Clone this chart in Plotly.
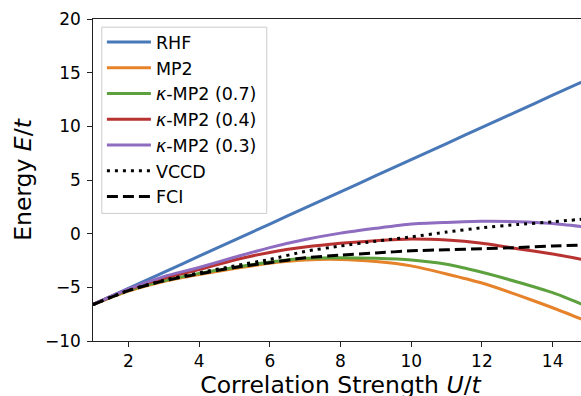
import plotly.graph_objects as go

U = [1, 2, 3, 4, 5, 6, 7, 8, 9, 10, 11, 12, 13, 14, 15]

rhf = [-6.6, -5.1, -3.6, -2.1, -0.6, 0.9, 2.4, 3.9, 5.4, 6.9, 8.4, 9.9, 11.4, 12.9, 14.4]
mp2 = [-6.6, -5.35, -4.45, -3.8, -3.25, -2.75, -2.45, -2.4, -2.6, -3.0, -3.75, -4.6, -5.7, -6.9, -8.2]
kmp2_07 = [-6.6, -5.3, -4.4, -3.7, -3.15, -2.65, -2.3, -2.25, -2.3, -2.45, -2.85, -3.6, -4.5, -5.5, -6.8]
kmp2_04 = [-6.6, -5.2, -4.15, -3.35, -2.45, -1.75, -1.25, -0.9, -0.65, -0.5, -0.6, -0.9, -1.4, -1.9, -2.5]
kmp2_03 = [-6.6, -5.15, -4.0, -3.15, -2.2, -1.3, -0.55, 0.05, 0.5, 0.9, 1.05, 1.15, 1.12, 0.95, 0.6]
vccd = [-6.6, -5.3, -4.35, -3.65, -3.0, -2.4, -1.65, -1.15, -0.7, -0.3, 0.15, 0.55, 0.85, 1.1, 1.4]
fci = [-6.6, -5.3, -4.4, -3.75, -3.15, -2.7, -2.25, -2.0, -1.8, -1.6, -1.5, -1.4, -1.3, -1.15, -1.05]

names = ["RHF", "MP2", "<i>κ</i>-MP2 (0.7)", "<i>κ</i>-MP2 (0.4)", "<i>κ</i>-MP2 (0.3)", "VCCD", "FCI"]
series = [rhf, mp2, kmp2_07, kmp2_04, kmp2_03, vccd, fci]
colors = ["#4878B8", "#E6822A", "#5DA13F", "#B83232", "#8E6CC0", "black", "black"]
dashes = ["solid", "solid", "solid", "solid", "solid", "3px,5px", "11px,5px"]

fig = go.Figure()
for n, s, c, d in zip(names, series, colors, dashes):
    fig.add_trace(go.Scatter(x=U, y=s, mode="lines", name=n,
                             line=dict(color=c, width=3, dash=d, shape="spline", smoothing=0.6)))

font = "DejaVu Sans, sans-serif"
fig.update_layout(
    width=600, height=410,
    margin=dict(l=92.9, r=12, t=18.5, b=69.3),
    paper_bgcolor="white", plot_bgcolor="white",
    font=dict(family=font, size=17, color="black"),
    showlegend=True,
    legend=dict(x=0.018, y=0.984, xanchor="left", yanchor="top", itemwidth=44,
                bgcolor="rgba(0,0,0,0)", borderwidth=0,
                font=dict(family=font, size=17.5, color="black")),
    shapes=[dict(type="rect", xref="paper", yref="paper",
                 x0=0.0178, x1=0.351, y0=0.3963, y1=0.9746,
                 line=dict(color="#cccccc", width=1),
                 fillcolor="rgba(255,255,255,0.8)", layer="below")],
)
fig.update_xaxes(range=[1, 15], tick0=0, dtick=2, showgrid=False, zeroline=False,
                 showline=True, linecolor="#222", linewidth=1.3, mirror=True,
                 ticks="outside", ticklen=4.5, tickwidth=1.2, tickcolor="#222",
                 tickfont=dict(size=17),
                 title=dict(text="Correlation Strength <i>U</i>/<i>t</i>", font=dict(size=23.5), standoff=4),
                 automargin=False)
fig.update_yaxes(range=[-10, 20], tick0=0, dtick=5, showgrid=False, zeroline=False,
                 showline=True, linecolor="#222", linewidth=1.3,
                 ticks="outside", ticklen=4.5, tickwidth=1.2, tickcolor="#222",
                 ticklabelstandoff=3,
                 tickfont=dict(size=17),
                 title=dict(text="Energy <i>E</i>/<i>t</i>", font=dict(size=23.5), standoff=6),
                 automargin=False)

fig.write_html("out.html", config={"displayModeBar": False},
               post_script="document.body.style.margin='0';document.body.style.overflow='hidden';")
